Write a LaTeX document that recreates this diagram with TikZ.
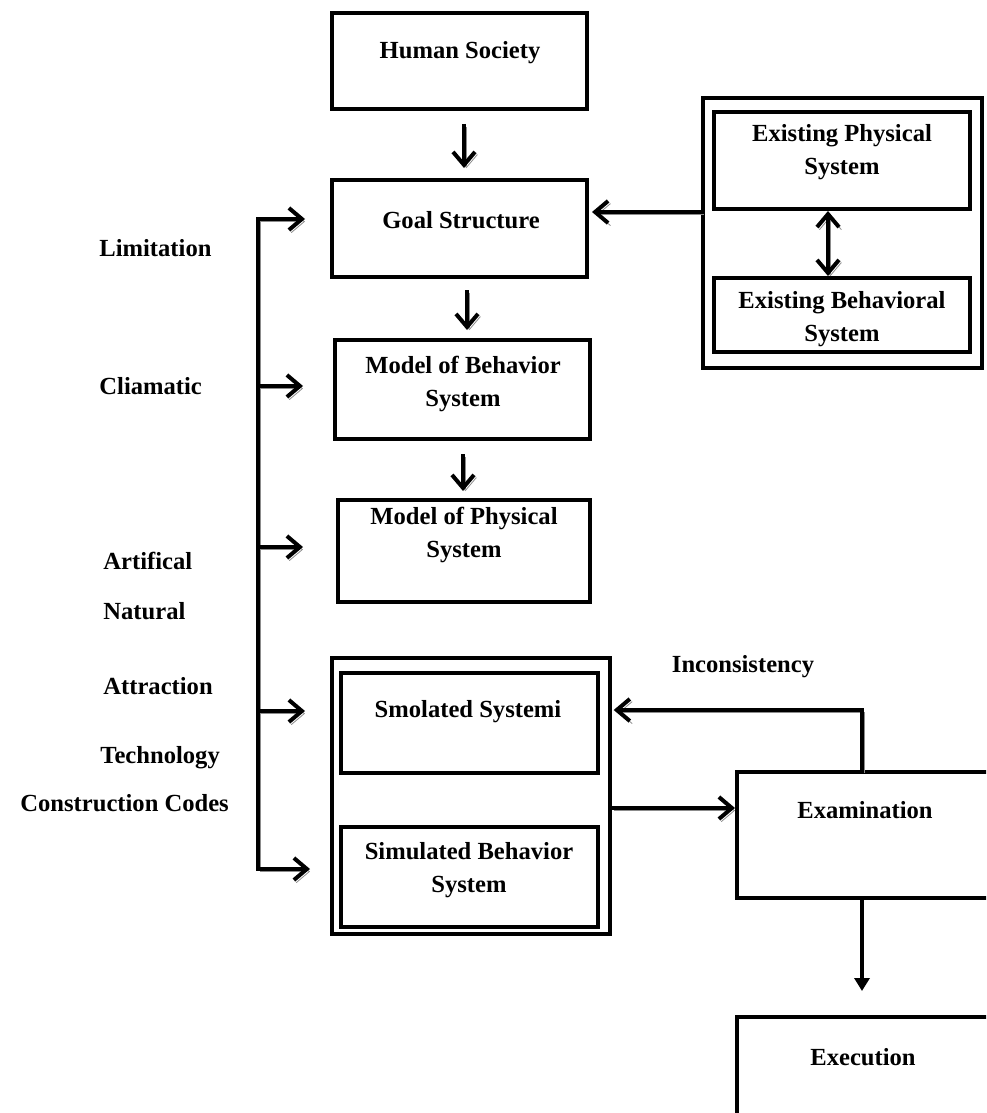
\documentclass[tikz,border=0pt]{standalone}
\usepackage{fontspec}
\setmainfont{Liberation Serif}
\usetikzlibrary{arrows.meta,fit}
\begin{document}
\begin{tikzpicture}[x=0.5pt,y=-0.5pt,
  box/.style={draw, line width=2pt, inner sep=0pt},
  frame/.style={draw, line width=1.7pt, inner sep=0pt},
  txt/.style={font=\bfseries\fontsize{12.3}{16.5}\selectfont, align=center, inner sep=0pt},
  lbl/.style={txt, anchor=west},
  shadowed/.style={preaction={draw=black!45, transform canvas={shift={(1.2pt,-1.3pt)}}}},
  ln/.style={line width=2pt, shadowed},
  arr/.style={ln, -{Straight Barb[length=6.5pt,width=11pt]}},
  dbl/.style={ln, {Straight Barb[length=6.5pt,width=11pt]}-{Straight Barb[length=6.5pt,width=11pt]}},
  tri/.style={line width=2pt, -{Triangle[length=6.5pt,width=7.5pt]}}]
\useasboundingbox (0,0) rectangle (986,1113);
\clip (0,0) rectangle (986,1113);

% main chain of boxes
\node[box, fit={(332,13) (587,109)}] (hs) {};
\node[txt] (hst) at (460,53) {Human Society};
\node[box, fit={(332,180) (587,277)}] (gs) {};
\node[txt] (gst) at (461,220) {Goal Structure};
\node[box, fit={(335,340) (590,439)}] (mb) {};
\node[txt] (mbt) at (463,384) {Model of Behavior\\System};
\node[box, fit={(338,500) (590,602)}] (mp) {};
\node[txt] (mpt) at (464,535) {Model of Physical\\System};

% existing systems
\node[frame, fit={(703,98) (982,368)}] (eo) {};
\node[box, fit={(714,112) (970,209)}] (ep) {};
\node[txt] (ept) at (842,152) {Existing Physical\\System};
\node[box, fit={(714,278) (970,352)}] (eb) {};
\node[txt] (ebt) at (842,319) {Existing Behavioral\\System};

% simulated systems
\node[frame, fit={(332,658) (610,934)}] (so) {};
\node[box, fit={(341,673) (598,773)}] (sm) {};
\node[txt] (smt) at (468,712) {Smolated Systemi};
\node[box, fit={(341,827) (598,927)}] (sb) {};
\node[txt] (sbt) at (469,870) {Simulated Behavior\\System};

% examination and execution
\node[box, fit={(737,772) (992,898)}] (ex) {};
\node[txt] (ext) at (865,810) {Examination};
\node[box, fit={(737,1017) (992,1140)}] (exe) {};
\node[txt] (exet) at (863,1057) {Execution};
\node[txt] (inc) at (743,667) {Inconsistency};

% factor labels
\node[lbl] (l1) at (99,248) {Limitation};
\node[lbl] (l2) at (99,386) {Cliamatic};
\node[lbl] (l3) at (103,561) {Artifical};
\node[lbl] (l4) at (103,611) {Natural};
\node[lbl] (l5) at (103,686) {Attraction};
\node[lbl] (l6) at (100,758) {Technology};
\node[lbl] (l7) at (20,803) {Construction Codes};

% bracket feeding the factors into the models
\coordinate (b1) at (258,219);
\coordinate (b2) at (258,386);
\coordinate (b3) at (258,547);
\coordinate (b4) at (258,711);
\coordinate (b5) at (258,869);
\draw[ln, line cap=rect] (b1) -- (b5);
\draw[arr, shorten >=12.5pt] (b1) -- (b1 -| gs.west);
\draw[arr, shorten >=15pt] (b2) -- (b2 -| mb.west);
\draw[arr, shorten >=16.5pt] (b3) -- (b3 -| mp.west);
\draw[arr, shorten >=17pt] (b4) -- (b4 -| sm.west);
\draw[arr, shorten >=14.5pt] (b5) -- (b5 -| sb.west);

% vertical flow
\draw[arr] ([xshift=2.25pt,yshift=-6.5pt]hs.south) -- ([xshift=2.25pt,yshift=5pt]gs.north);
\draw[arr] ([xshift=3.75pt,yshift=-5.5pt]gs.south) -- ([xshift=2.25pt,yshift=4pt]mb.north);
\draw[arr] ([xshift=0.25pt,yshift=-6.5pt]mb.south) -- ([xshift=-0.5pt,yshift=3.5pt]mp.north);

% links between the existing systems and the goals
\draw[arr] ([yshift=10.5pt]eo.west) -- ([xshift=1.5pt,yshift=8.25pt]gs.east);
\draw[dbl] ([xshift=-7pt]ep.south) -- ([xshift=-7pt]eb.north);

% simulation, examination, feedback and execution
\draw[arr] ([yshift=-6pt]so.east) -- ([yshift=13.5pt]ex.west);
\draw[arr] ([xshift=-1.25pt]ex.north) |- ([xshift=1pt,yshift=43pt]so.east);
\draw[tri, shorten >=12pt] ([xshift=-1.25pt]ex.south) -- ([xshift=-1.25pt]exe.north);
\end{tikzpicture}
\end{document}
